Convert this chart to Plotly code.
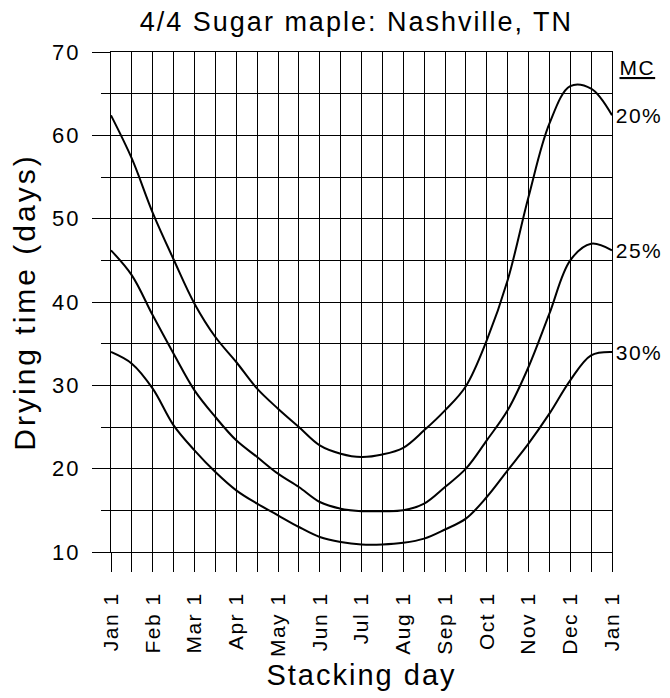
import plotly.graph_objects as go

# half-month positions, in months from Jan 1
x_months = [i / 2 for i in range(25)]
month_labels = ["Jan 1", "Feb 1", "Mar 1", "Apr 1", "May 1", "Jun 1", "Jul 1",
                "Aug 1", "Sep 1", "Oct 1", "Nov 1", "Dec 1", "Jan 1"]

mc20 = [62.4, 57.2, 50.7, 45.1, 39.8, 35.8, 32.8, 29.6, 27.2, 25.0, 22.8, 21.8, 21.4,
        21.7, 22.5, 24.6, 27.0, 29.9, 35.4, 42.6, 52.6, 61.4, 65.9, 65.6, 62.4]
mc25 = [46.2, 43.2, 38.4, 33.8, 29.4, 26.2, 23.4, 21.4, 19.4, 17.8, 16.0, 15.2, 14.9,
        14.9, 15.0, 15.8, 17.8, 20.0, 23.4, 27.0, 32.2, 38.6, 45.0, 47.0, 46.2]
mc30 = [34.0, 32.6, 29.6, 25.2, 22.2, 19.6, 17.4, 15.8, 14.4, 13.0, 11.8, 11.2, 10.9,
        10.9, 11.1, 11.6, 12.7, 14.0, 16.6, 19.8, 23.0, 26.6, 30.6, 33.6, 34.0]
series = [("20%", mc20), ("25%", mc25), ("30%", mc30)]

FONT = "Liberation Sans, Arial, sans-serif"

fig = go.Figure()
for name, vals in series:
    fig.add_trace(go.Scatter(x=x_months, y=vals, mode="lines", name=name,
                             line=dict(color="black", width=2, shape="spline", smoothing=1.0),
                             showlegend=False, hoverinfo="skip"))

ticktext = []
for i in range(25):
    ticktext.append(month_labels[i // 2] if i % 2 == 0 else "")

fig.update_xaxes(range=[0, 12], tickmode="array", tickvals=x_months, ticktext=ticktext,
                 tickangle=-90, ticks="outside", ticklen=19, tickcolor="black", tickwidth=1,
                 showgrid=True, gridcolor="black", gridwidth=1,
                 showline=True, linecolor="black", linewidth=1, mirror=True,
                 zeroline=False, ticklabelstandoff=12, automargin=False,
                 tickfont=dict(family=FONT, size=21, color="black"),
                 title=dict(text="Stacking day", font=dict(family=FONT, size=29, color="black"),
                            standoff=16))
fig.update_yaxes(range=[10, 70], tickmode="linear", tick0=10, dtick=10,
                 ticks="outside", ticklen=18, tickcolor="black", tickwidth=1,
                 showgrid=True, gridcolor="black", gridwidth=1,
                 minor=dict(dtick=5, tick0=10, ticks="outside", ticklen=9, tickcolor="black",
                            showgrid=True, gridcolor="black", gridwidth=1),
                 showline=True, linecolor="black", linewidth=1, mirror=True,
                 zeroline=False, ticklabelstandoff=7, automargin=False,
                 tickfont=dict(family=FONT, size=22, color="black"),
                 title=dict(text="Drying time (days)", font=dict(family=FONT, size=30, color="black"),
                            standoff=14))

fig.add_annotation(x=1, xref="paper", y=68.2, yref="y", xanchor="left", yanchor="middle",
                   xshift=7, text="MC", showarrow=False,
                   font=dict(family=FONT, size=21, color="black", lineposition="under"))
for name, vals in series:
    fig.add_annotation(x=1, xref="paper", y=vals[-1], yref="y", xanchor="left", yanchor="middle",
                       xshift=4, text=name, showarrow=False,
                       font=dict(family=FONT, size=21, color="black"))

fig.update_layout(width=670, height=698,
                  margin=dict(l=103, r=66, t=44, b=154),
                  paper_bgcolor="white", plot_bgcolor="white",
                  title=dict(text="4/4 Sugar maple: Nashville, TN", x=0.52, xanchor="center",
                             y=0.98, yanchor="middle",
                             font=dict(family=FONT, size=27, color="black")))

post = """
var gd = document.getElementById('{plot_id}');
function ls(sel, v) { gd.querySelectorAll(sel).forEach(function (e) { e.style.letterSpacing = v; }); }
ls('.gtitle', '2px');
ls('.xtitle', '2px');
ls('.ytitle', '3px');
ls('.xtick text', '1.5px');
ls('.ytick text', '2px');
ls('.annotation-text', '1.5px');
"""
fig.write_html("out.html", post_script=post)
